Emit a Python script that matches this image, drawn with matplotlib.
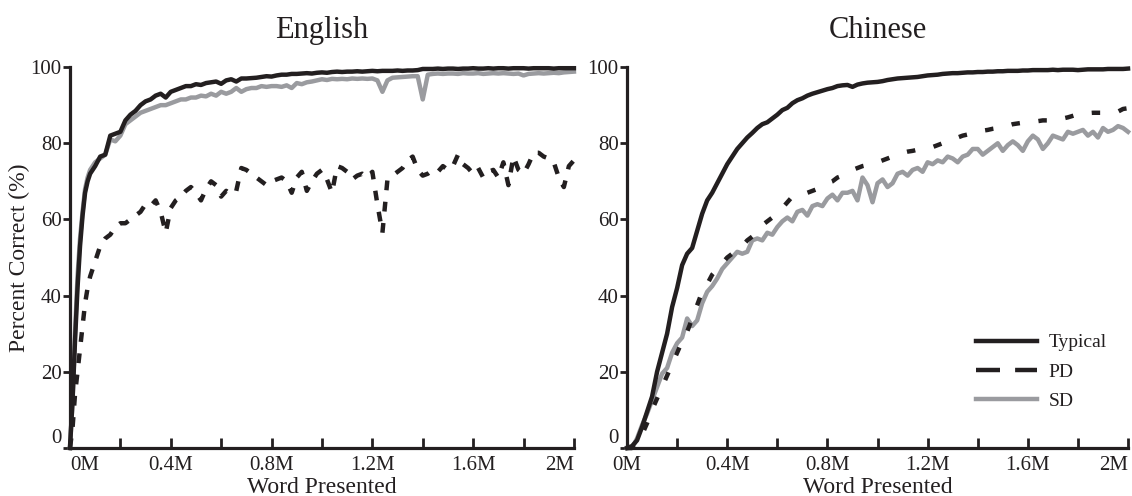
import numpy as np
import matplotlib
matplotlib.use("Agg")
import matplotlib.pyplot as plt
from matplotlib.lines import Line2D

plt.rcParams["font.family"] = ["Liberation Serif", "DejaVu Serif"]

# sample grid (millions of words presented)
x_en = [0, 0.01, 0.02, 0.03, 0.04, 0.05, 0.06, 0.07, 0.08] + list(np.round(np.arange(0.10, 2.001, 0.02), 2))
x_zh = list(np.round(np.arange(0.0, 2.001, 0.02), 2))

en_typical = [0, 12, 28, 42, 53, 61, 67, 70, 72,
              74, 76.5, 77, 82, 82.5, 83, 86, 87.5, 88.5, 90, 91, 91.5, 92.5, 93, 92, 93.5,
              94, 94.5, 95, 95, 95.5, 95.3, 95.8, 96, 96.2, 95.6, 96.5, 96.8, 96.2, 97, 97,
              97.1, 97.2, 97.4, 97.6, 97.5, 97.8, 98, 98, 98.2, 98.2, 98.3, 98.4, 98.3, 98.5, 98.6,
              98.5, 98.7, 98.8, 98.7, 98.8, 98.8, 98.9, 98.8, 98.9, 99.0, 98.9, 99.0, 99.0, 99.0, 99.1,
              99.0, 99.1, 99.1, 99.2, 99.5, 99.5, 99.5, 99.6, 99.5, 99.6, 99.6, 99.5, 99.6, 99.6, 99.7,
              99.6, 99.6, 99.7, 99.6, 99.7, 99.7, 99.6, 99.7, 99.7, 99.7, 99.6, 99.7, 99.7, 99.7, 99.7,
              99.6, 99.7, 99.7, 99.7, 99.7]
en_pd = [0, 5, 14, 20, 26, 32, 38, 42, 45,
         49, 53, 55, 56, 58, 59, 59, 60, 61, 62, 64, 63.5, 65, 62, 56.5, 63,
         65, 66, 67.5, 68.5, 67, 65, 68, 70, 69, 66, 67.5, 66.5, 67.5, 73.5, 73,
         72, 71, 70, 69, 70, 70.5, 71, 70, 67, 71, 72.5, 67.5, 70, 72, 73,
         70.5, 67, 74, 73.5, 72.5, 70.5, 71.5, 72, 71, 72.5, 64, 56.5, 70.5, 71.5, 72.5,
         73.5, 75.5, 76.5, 73, 71.5, 72, 73, 72.5, 74, 73, 74, 77, 74.5, 73.5, 72,
         73.5, 71, 72.5, 73, 71, 75, 69, 76.5, 73, 72, 74.5, 77.5, 77.5, 76.5, 76,
         75, 71, 68.5, 74, 75.5]
en_sd = [0, 12, 30, 45, 55, 62, 68, 71, 73,
         75, 76, 77, 81, 80.5, 82, 85, 86, 87, 88, 88.5, 89, 89.5, 90, 90, 90.5,
         91, 91.5, 91.5, 92, 92, 92.5, 92.3, 93, 92.5, 93.5, 93, 93.5, 94.5, 93.5, 94.2,
         94.5, 94.5, 95, 94.8, 95, 95, 94.8, 95.2, 94.5, 95.8, 95.5, 96, 96.2, 96.5, 96.8,
         96.6, 96.9, 96.8, 96.9, 96.8, 97, 96.9, 97, 96.9, 97, 96.5, 93.5, 96.5, 97.2, 97.3,
         97.4, 97.5, 97.6, 97.6, 91.5, 98.0, 98.2, 98.3, 98.2, 98.3, 98.3, 98.2, 98.4, 98.3, 98.3,
         98.4, 98.2, 98.3, 98.4, 98.3, 98.4, 98.3, 98.2, 98.3, 97.8, 98.2, 98.3, 98.4, 98.3, 98.4,
         98.5, 98.4, 98.6, 98.7, 98.8]

zh_typical = [0, 0.5, 2, 5.5, 9.5, 13.5, 20, 25, 30, 37, 42, 48, 51, 52.5, 57, 61.5, 65, 67, 69.5, 72,
              74.5, 76.5, 78.5, 80, 81.5, 82.7, 84, 85, 85.5, 86.5, 87.5, 88.7, 89.3, 90.5, 91.3, 91.8,
              92.5, 93, 93.4, 93.8, 94.2, 94.5, 95, 95.2, 95.3, 94.8, 95.4, 95.7, 95.9, 96, 96.1, 96.3,
              96.6, 96.8, 97, 97.1, 97.2, 97.3, 97.4, 97.6, 97.8, 97.9, 98, 98.2, 98.3, 98.4, 98.4, 98.5,
              98.6, 98.6, 98.7, 98.7, 98.8, 98.8, 98.9, 98.9, 99.0, 99.0, 99.0, 99.1, 99.1, 99.2, 99.2,
              99.2, 99.2, 99.3, 99.2, 99.3, 99.3, 99.3, 99.2, 99.3, 99.4, 99.4, 99.4, 99.4, 99.5, 99.5,
              99.5, 99.5, 99.6]
zh_pd = [0, 0, 1, 3.5, 6.5, 10, 13, 16, 19, 22, 25, 28, 30.5, 34, 37.5, 41, 43, 45.5, 47, 48.5,
         50, 51, 52, 53, 54.5, 55.5, 57, 58.5, 59.5, 60.5, 61.5, 63, 64.5, 66, 66, 66.5, 67, 67.5,
         68, 68.5, 69.5, 70, 71, 71.5, 72.5, 73, 73.5, 74, 74.3, 74.6, 75, 75.5, 76, 76.5, 77, 77.5,
         77.8, 78, 78.3, 78.5, 78.7, 79, 79.5, 80, 80.5, 81, 81.5, 82, 82.3, 82.7, 83, 83.3, 83.5,
         83.8, 84, 84.3, 84.6, 85, 85.2, 85.4, 85.5, 85.7, 85.8, 86, 86, 86.1, 86.2, 86.5, 86.8,
         87.2, 87.6, 87.9, 87.9, 88, 88, 88, 88.1, 88.2, 88.3, 89, 89.2]
zh_sd = [0, 0, 2.5, 6, 9, 12.5, 16, 19.5, 21, 25, 27.5, 29, 34, 32, 33.5, 38, 41, 42.5, 44.5, 47,
         48.5, 50, 51.5, 51, 51.5, 54.5, 55, 54.5, 56.5, 56, 58, 59.5, 60.5, 59.5, 62, 62.5, 61,
         63.5, 64, 63.5, 65.5, 66.5, 65, 67, 67, 67.5, 65, 71, 69, 64.5, 69.5, 70.5, 68.5, 69.5, 72,
         72.5, 71.5, 73, 73.5, 72.5, 75, 74.5, 75.5, 75, 76.5, 76, 75, 76.5, 77, 78.5, 78.5, 77, 78,
         79, 80, 78, 79.5, 80.5, 79.5, 78, 80.5, 82, 81, 78.5, 80, 82, 81.5, 81, 83, 82.5, 83, 83.5,
         82, 83, 81.5, 84, 83, 83.5, 84.5, 84, 83]

titles = ["English", "Chinese"]
y_ticks = [0, 20, 40, 60, 80, 100]
x_ticks = [0, 0.2, 0.4, 0.6, 0.8, 1.0, 1.2, 1.4, 1.6, 1.8, 2.0]
x_tick_labels = ["0M", "", "0.4M", "", "0.8M", "", "1.2M", "", "1.6M", "", "2M"]

INK = "#231f20"
GREY = "#9a9b9f"
LW = 3.2
pd_dashes = [(2.2, 2.6), (1.9, 4.2)]

fig = plt.figure(figsize=(11.32, 4.96), dpi=100)
ax_en = fig.add_axes([0.0618, 0.0968, 0.4452, 0.768])
ax_zh = fig.add_axes([0.5539, 0.0968, 0.4426, 0.768])

panels = [
    (ax_en, x_en, en_typical, en_pd, en_sd),
    (ax_zh, x_zh, zh_typical, zh_pd, zh_sd),
]

for i, (ax, xs, typ, pd_, sd) in enumerate(panels):
    ax.plot(xs, sd, color=GREY, lw=LW, clip_on=False, zorder=2)
    ax.plot(xs, pd_, color=INK, lw=LW, dashes=pd_dashes[i], clip_on=False, zorder=3)
    ax.plot(xs, typ, color=INK, lw=LW, clip_on=False, zorder=4)

    ax.set_xlim(0, 2)
    ax.set_ylim(0, 100)
    for side in ["top", "right"]:
        ax.spines[side].set_visible(False)
    for side in ["left", "bottom"]:
        ax.spines[side].set_linewidth(2.3)
        ax.spines[side].set_color(INK)
        ax.spines[side].set_zorder(5)

    ax.set_yticks(y_ticks)
    ax.set_xticks(x_ticks)
    ax.set_xticklabels(x_tick_labels)
    ax.tick_params(axis="x", direction="in", length=7, width=2, color=INK,
                   labelsize=15, labelcolor=INK, pad=6)
    ax.tick_params(axis="y", direction="out", length=5, width=2, color=INK,
                   labelsize=15, labelcolor=INK, pad=1)
    # end labels sit flush with the axis corners
    ax.get_xticklabels()[-1].set_horizontalalignment("right")
    ax.get_yticklabels()[0].set_verticalalignment("bottom")
    ax.set_xlabel("Word Presented", fontsize=17, color=INK, labelpad=1)
    ax.set_title(titles[i], fontsize=22, color=INK, pad=21)
    ax.patch.set_visible(False)

ax_en.get_xticklabels()[0].set_horizontalalignment("left")
ax_en.set_ylabel("Percent Correct (%)", fontsize=17, color=INK, labelpad=0)

legend_elements = [
    Line2D([0], [0], color=INK, lw=LW, label="Typical"),
    Line2D([0], [0], color=INK, lw=LW, dashes=(5.4, 3.4), label="PD"),
    Line2D([0], [0], color=GREY, lw=LW, label="SD"),
]
ax_zh.legend(handles=legend_elements, loc="center left", bbox_to_anchor=(0.67, 0.2),
             frameon=False, fontsize=14, handlelength=3.1, handletextpad=0.6,
             labelspacing=0.6, labelcolor=INK, borderpad=0.2)

fig.savefig("out.png", dpi=100)
